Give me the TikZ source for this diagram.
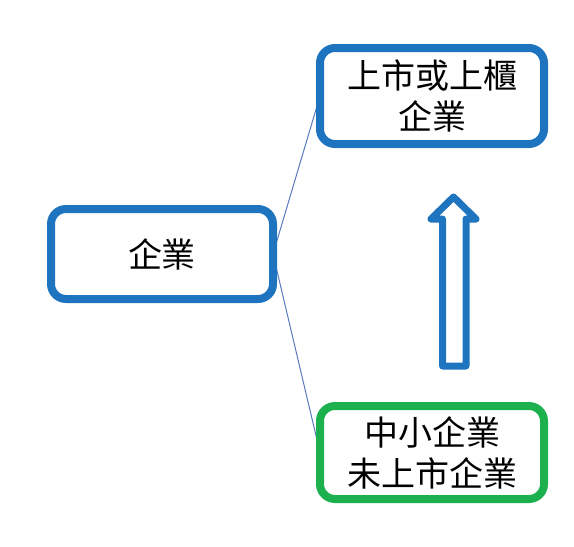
\documentclass[tikz,border=0pt]{standalone}
\usepackage{fontspec}
\newfontfamily\cjk{Noto Sans CJK TC}
\usetikzlibrary{backgrounds}
\definecolor{boxblue}{HTML}{1F74C0}
\definecolor{boxgreen}{HTML}{1DB04E}
\definecolor{linkblue}{HTML}{5A78BE}
\tikzset{
  cbox/.style={draw=#1, line width=8pt, fill=white, rounded corners=15pt,
    inner sep=0pt, outer sep=0pt, align=center,
    font=\cjk\fontsize{34}{41}\selectfont},
  link/.style={draw=linkblue, line width=1pt},
  bigarrow/.style={draw=boxblue, line width=7pt, line join=round, fill=white}
}
\begin{document}
\begin{tikzpicture}[x=1pt,y=-1pt]
\useasboundingbox (0,0) rectangle (574,547);
\node[cbox=boxblue, minimum width=222pt, minimum height=90pt] (firm) at (162,254) {企業};
\node[cbox=boxblue, minimum width=224pt, minimum height=96pt] (listed) at (432,96) {上市或上櫃\\企業};
\node[cbox=boxgreen, minimum width=224pt, minimum height=93pt] (sme) at (432,452.5) {中小企業\\未上市企業};
\begin{scope}[on background layer]
\draw[link] (firm.east) -- (listed.west);
\draw[link] (firm.east) -- (sme.west);
\end{scope}
\draw[bigarrow] (442.5,366) -- (442.5,219) -- (431,219) -- (453.5,197) -- (476,219) -- (466,219) -- (466,366) -- cycle;
\end{tikzpicture}
\end{document}
